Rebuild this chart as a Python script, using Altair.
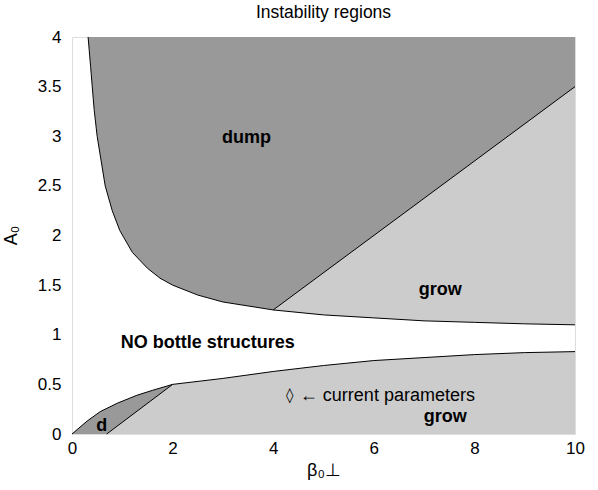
import altair as alt
import pandas as pd

# Upper boundary curve
up_b = [0.32, 0.37, 0.44, 0.50, 0.66, 0.80, 0.95, 1.20, 1.50, 1.75, 2.0, 2.5, 3.0, 3.5, 4.0, 5.0, 6.0, 7.0, 8.0, 9.0, 10.0]
up_a = [4.00, 3.70, 3.27, 3.00, 2.50, 2.25, 2.05, 1.83, 1.67, 1.57, 1.50, 1.40, 1.33, 1.29, 1.25, 1.20, 1.17, 1.14, 1.125, 1.11, 1.10]
# Lower boundary curve
lo_b = [0.0, 0.30, 0.56, 0.90, 1.29, 1.60, 2.0, 3.0, 4.0, 5.0, 6.0, 7.0, 8.0, 9.0, 10.0]
lo_a = [0.0, 0.13, 0.225, 0.31, 0.39, 0.44, 0.50, 0.56, 0.63, 0.69, 0.74, 0.77, 0.80, 0.82, 0.83]
# dump / grow dividing lines
div_up_b = [4.0, 10.0]
div_up_a = [1.25, 3.5]
div_lo_b = [0.69, 2.0]
div_lo_a = [0.0, 0.5]

DARK = "#999999"
LIGHT = "#cccccc"
FONT = "Liberation Sans"

up = pd.DataFrame({"b": up_b, "a": up_a})
lo = pd.DataFrame({"b": lo_b, "a": lo_a})
lo_left = lo[lo.b <= 2.0]
dup = pd.DataFrame({"b": div_up_b, "a": div_up_a})
dlo = pd.DataFrame({"b": div_lo_b, "a": div_lo_a})
# light lower region: d-line then lower curve beyond beta=2
lo_grow = pd.concat([dlo, lo[lo.b > 2.0]], ignore_index=True)

xs = alt.Scale(domain=[0, 10], nice=False)
ys = alt.Scale(domain=[0, 4], nice=False)

X = alt.X("b:Q", scale=xs, axis=alt.Axis(
    title="β₀⊥", values=[0, 2, 4, 6, 8, 10], format="~f", ticks=False, grid=False, domain=False,
    labelFontSize=17, labelPadding=6, labelColor="#000", labelFont=FONT,
    titleFont=FONT, titleFontSize=18, titleFontWeight="normal", titleColor="#000",
    titleY=27, titleBaseline="top", labelFlush=False))
Y = alt.Y("a:Q", scale=ys, axis=alt.Axis(
    title="A₀", values=[0, 0.5, 1, 1.5, 2, 2.5, 3, 3.5, 4], format="~f", ticks=False, grid=False,
    domain=False, labelFontSize=17, labelPadding=11, labelColor="#000", labelFont=FONT,
    titleFont=FONT, titleFontSize=18, titleFontWeight="normal", titleColor="#000",
    titleX=-52, titleY=198, labelFlush=False))

def area(df, color, y2):
    return alt.Chart(df).mark_area(color=color, opacity=1, strokeWidth=0).encode(
        x=X, y=Y, y2=alt.datum(y2))

layers = [
    area(up, DARK, 4),
    area(dup, LIGHT, 0),
    area(up, "white", 0),
    area(lo_left, DARK, 0),
    area(lo_grow, LIGHT, 0),
]
for df in (up, lo, dup, dlo):
    layers.append(alt.Chart(df).mark_line(color="black", strokeWidth=1).encode(
        x=alt.X("b:Q", scale=xs), y=alt.Y("a:Q", scale=ys)))

labels = pd.DataFrame({
    "b": [3.47, 7.32, 2.7, 0.59, 7.42],
    "a": [2.98, 1.45, 0.92, 0.08, 0.17],
    "t": ["dump", "grow", "NO bottle structures", "d", "grow"],
})
layers.append(alt.Chart(labels).mark_text(fontWeight="bold", fontSize=18, font=FONT,
                                          color="black", align="center", baseline="middle").encode(
    x=alt.X("b:Q", scale=xs), y=alt.Y("a:Q", scale=ys), text="t:N"))

cur = pd.DataFrame({"b": [4.33], "a": [0.39], "t": ["◊"]})
layers.append(alt.Chart(cur).mark_text(fontSize=15, font="DejaVu Sans", color="black",
                                       align="center", baseline="middle").encode(
    x=alt.X("b:Q", scale=xs), y=alt.Y("a:Q", scale=ys), text="t:N"))
curt = pd.DataFrame({"b": [4.53], "a": [0.385], "t": ["← current parameters"]})
layers.append(alt.Chart(curt).mark_text(fontSize=18, font=FONT, color="black",
                                        align="left", baseline="middle").encode(
    x=alt.X("b:Q", scale=xs), y=alt.Y("a:Q", scale=ys), text="t:N"))

chart = alt.layer(*layers).properties(
    width=503, height=397,
    title=alt.TitleParams("Instability regions", fontSize=17.5, font=FONT,
                          fontWeight="normal", color="#000", anchor="middle", offset=7),
    autosize=alt.AutoSizeParams(type="none"),
    padding={"left": 72, "top": 37, "right": 23, "bottom": 56},
).configure_view(stroke="black", strokeWidth=1).configure(background="white")

chart.save("out.html", embed_options={"renderer": "svg", "actions": False})
